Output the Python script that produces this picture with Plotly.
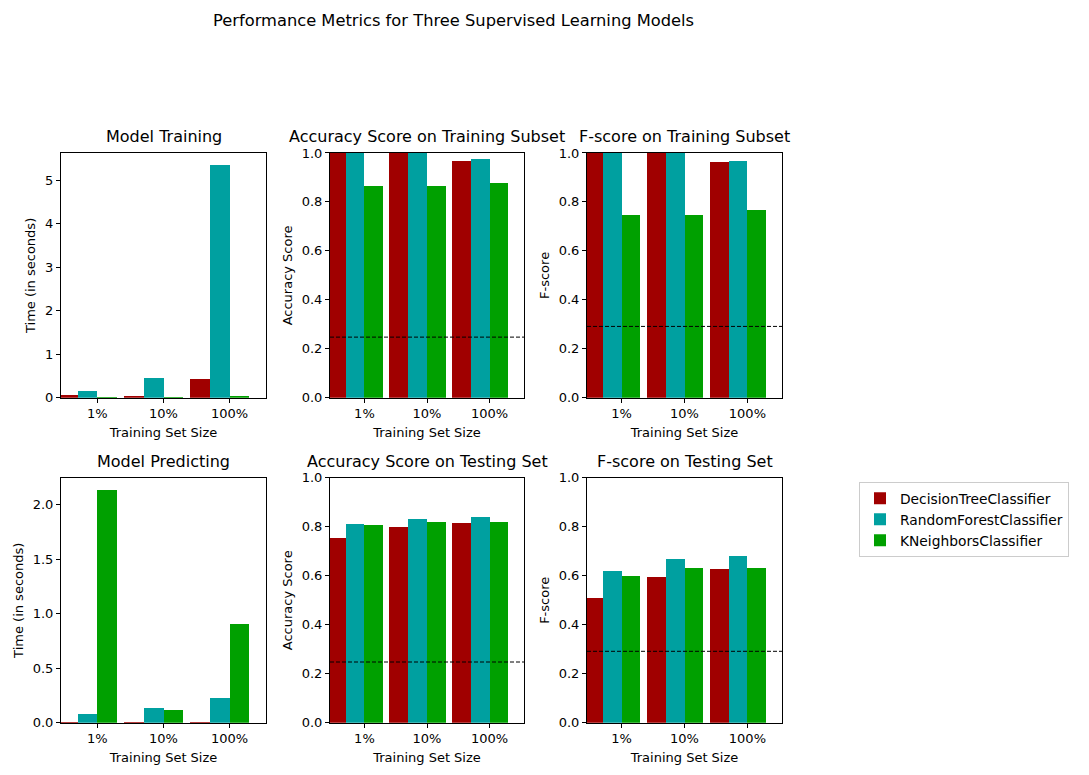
import plotly.graph_objects as go
from plotly.subplots import make_subplots

sizes = ["1%", "10%", "100%"]
learners = ["DecisionTreeClassifier", "RandomForestClassifier", "KNeighborsClassifier"]
colors = ["#A00000", "#00A0A0", "#00A000"]

# one list per learner (DT, RF, KNN), values for 1%, 10%, 100%
train_time = [[0.07, 0.046, 0.44], [0.16, 0.46, 5.36], [0.004, 0.02, 0.045]]
acc_train = [[1.0, 1.0, 0.9687], [1.0, 1.0, 0.977], [0.8665, 0.8665, 0.879]]
f_train = [[1.0, 1.0, 0.9646], [1.0, 1.0, 0.9687], [0.748, 0.748, 0.768]]
pred_time = [[0.005, 0.005, 0.007], [0.085, 0.137, 0.229], [2.137, 0.119, 0.907]]
acc_test = [[0.756, 0.801, 0.817], [0.813, 0.834, 0.842], [0.808, 0.820, 0.8215]]
f_test = [[0.511, 0.597, 0.629], [0.621, 0.670, 0.6826], [0.601, 0.634, 0.634]]

accuracy_baseline = 0.248
fscore_baseline = 0.2917

panel_titles = ["Model Training", "Accuracy Score on Training Subset", "F-score on Training Subset",
                "Model Predicting", "Accuracy Score on Testing Set", "F-score on Testing Set"]
y_titles = ["Time (in seconds)", "Accuracy Score", "F-score",
            "Time (in seconds)", "Accuracy Score", "F-score"]
metrics = [train_time, acc_train, f_train, pred_time, acc_test, f_test]
baselines = [None, accuracy_baseline, fscore_baseline, None, accuracy_baseline, fscore_baseline]

W, H = 1089, 775
bar_width = 0.3
FONT = "DejaVu Sans"


# compensation for the page offset observed in the rendered page
def fx(v):
    return (v - 8) / W


def fy(v):
    return 1 - ((v - 14) / 0.981) / H


fig = make_subplots(rows=2, cols=3)

col_px = [(61, 266), (330, 524), (587, 782)]
row_px = [(152, 397), (477, 722)]

for j, data in enumerate(metrics):
    r, c = j // 3, j % 3
    for k, learner in enumerate(learners):
        xs = [i + k * bar_width for i in range(len(sizes))]
        fig.add_trace(go.Bar(x=xs, y=data[k], width=bar_width, name=learner,
                             marker=dict(color=colors[k], line=dict(width=0)),
                             legendgroup=learner, showlegend=(j == 5)),
                      row=r + 1, col=c + 1)
    n = "" if j == 0 else str(j + 1)
    x0, x1 = col_px[c]
    y0, y1 = row_px[r]
    if baselines[j] is None:
        ymax = max(max(v) for v in data) * 1.05
        yrange = [0, ymax]
        dtick = 1 if j == 0 else 0.5
        fmt = "d" if j == 0 else ".1f"
    else:
        yrange = [0, 1]
        dtick = 0.2
        fmt = ".1f"
    fig.layout["xaxis" + n].update(
        domain=[fx(x0), fx(x1)], range=[-0.1, 3.0],
        tickvals=[i + 1.5 * bar_width for i in range(len(sizes))], ticktext=sizes,
        showline=True, mirror=True, linecolor="black", linewidth=1,
        ticks="outside", ticklen=4, tickcolor="black", showgrid=False, zeroline=False,
        title=dict(text="Training Set Size", font=dict(size=13, color="black"), standoff=7),
        tickfont=dict(size=13, color="black"))
    fig.layout["yaxis" + n].update(
        domain=[fy(y1), fy(y0)], range=yrange, dtick=dtick, tickformat=fmt,
        showline=True, mirror=True, linecolor="black", linewidth=1,
        ticks="outside", ticklen=4, tickcolor="black", showgrid=False, zeroline=False,
        title=dict(text=y_titles[j], font=dict(size=13, color="black"), standoff=6),
        tickfont=dict(size=13, color="black"))
    fig.add_annotation(x=fx((x0 + x1) / 2), y=fy(y0), xref="paper", yref="paper",
                       text=panel_titles[j], showarrow=False, xanchor="center", yanchor="bottom",
                       yshift=6, borderpad=0, font=dict(size=16, color="black", family=FONT))
    if baselines[j] is not None:
        fig.add_shape(type="line", xref="x" + n + " domain", yref="y" + n,
                      x0=0, x1=1, y0=baselines[j], y1=baselines[j],
                      line=dict(color="black", width=1, dash="4px,2px"))

fig.add_annotation(x=fx(453), y=fy(20), xref="paper", yref="paper",
                   text="Performance Metrics for Three Supervised Learning Models",
                   showarrow=False, xanchor="center", yanchor="middle",
                   font=dict(size=16.3, color="black", family=FONT))

fig.update_layout(
    width=W, height=H, barmode="overlay", bargap=0,
    margin=dict(l=0, r=0, t=0, b=0),
    paper_bgcolor="white", plot_bgcolor="white",
    font=dict(family=FONT, color="black", size=13),
    legend=dict(x=fx(859), y=fy(481), xanchor="left", yanchor="top",
                bordercolor="#cccccc", borderwidth=1, bgcolor="white",
                font=dict(size=13.8, color="black"), traceorder="normal",
                itemwidth=30),
)

fig.write_html("out.html")
